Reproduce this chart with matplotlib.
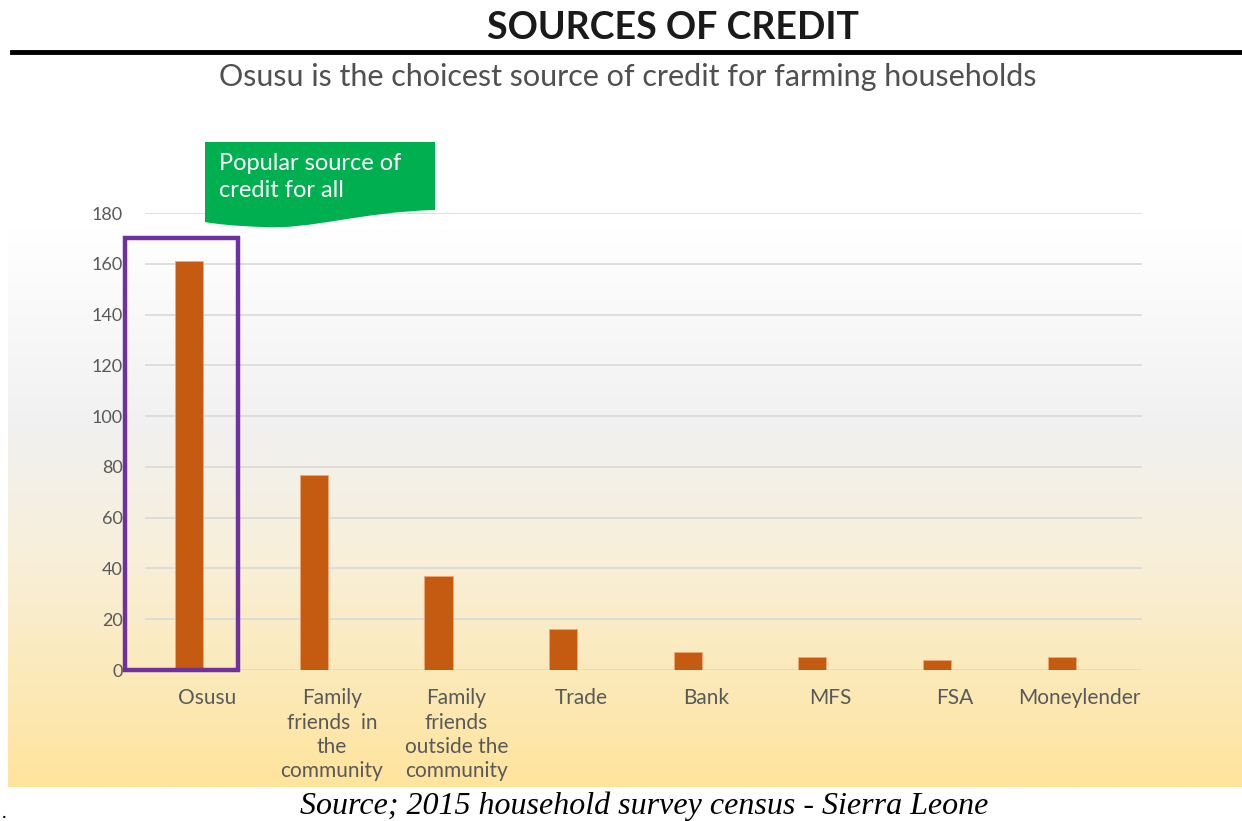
import matplotlib
matplotlib.use("Agg")
import matplotlib.pyplot as plt
import numpy as np
from matplotlib.colors import LinearSegmentedColormap
from matplotlib.patches import Rectangle, PathPatch
from matplotlib.path import Path

categories = ["Osusu", "Family\nfriends  in\nthe\ncommunity", "Family\nfriends\noutside the\ncommunity",
              "Trade", "Bank", "MFS", "FSA", "Moneylender"]
households = [161, 77, 37, 16, 7, 5, 4, 5]
y_ticks = [0, 20, 40, 60, 80, 100, 120, 140, 160, 180]

W, H = 1242, 821


def fx(px):
    return px / W


def fy(py):
    return 1 - py / H


def main():
    plt.rcParams['font.family'] = ['Lato', 'DejaVu Sans']
    fig = plt.figure(figsize=(W / 100, H / 100), dpi=100)
    fig.patch.set_facecolor("white")

    # background panel: white fading to grey then warm yellow
    bg = fig.add_axes([fx(8), fy(787), fx(1242 - 8), (787 - 230) / H])
    cmap = LinearSegmentedColormap.from_list(
        "panel", [(0, "#ffffff"), (0.35, "#f1f1f1"), (0.6, "#f8efd8"), (1, "#ffe49c")])
    bg.imshow(np.linspace(0, 1, 256)[:, None], aspect="auto", cmap=cmap, extent=[0, 1, 0, 1])
    bg.axis("off")

    ax = fig.add_axes([fx(145), fy(670), fx(1142 - 145), (670 - 213) / H])
    ax.patch.set_alpha(0)
    x = np.arange(len(categories))
    ax.bar(x - 0.145, households, width=0.225, color="#c55a11", edgecolor="#f0a878",
           linewidth=0.6, zorder=3)
    ax.set_xlim(-0.5, len(categories) - 0.5)
    ax.set_ylim(0, 180)
    ax.set_yticks(y_ticks)
    ax.set_xticks(x)
    ax.set_xticklabels(categories, fontsize=15, color="#595959", linespacing=1.28)
    ax.tick_params(axis="y", length=0, pad=16, labelsize=13, labelcolor="#595959")
    ax.tick_params(axis="x", length=0, pad=13)
    ax.grid(axis="y", color="#d9d9d9", linewidth=1.2, zorder=0)
    for s in ax.spines.values():
        s.set_visible(False)

    # highlight box around the leading source
    ax.add_patch(Rectangle((-0.66, 0), 0.91, 170, fill=False, edgecolor="#7030a0",
                           linewidth=3.2, clip_on=False, zorder=4))

    # heading, rule and subtitle
    fig.text(fx(673), fy(28), "SOURCES OF CREDIT", ha="center", va="center",
             fontsize=27, fontweight="bold", color="#1a1a1a")
    fig.add_artist(plt.Line2D([fx(12), fx(1242)], [fy(52), fy(52)], color="black",
                              linewidth=3.5))
    fig.text(fx(628), fy(77), "Osusu is the choicest source of credit for farming households",
             ha="center", va="center", fontsize=22, color="#505050")

    # green callout with a wavy lower edge
    pts = [(205, 142), (435, 142), (435, 210),
           (360, 212), (310, 230), (262, 227),
           (235, 226), (215, 224), (205, 222),
           (205, 142)]
    codes = [Path.MOVETO, Path.LINETO, Path.LINETO,
             Path.CURVE4, Path.CURVE4, Path.CURVE4,
             Path.CURVE4, Path.CURVE4, Path.CURVE4,
             Path.CLOSEPOLY]
    verts = [(fx(a), fy(b)) for a, b in pts]
    fig.add_artist(PathPatch(Path(verts, codes), facecolor="#00b050", edgecolor="none",
                             transform=fig.transFigure))
    fig.text(fx(219), fy(177), "Popular source of\ncredit for all", ha="left", va="center",
             fontsize=17, color="white", linespacing=1.38)

    fig.text(fx(644), fy(806), "Source; 2015 household survey census - Sierra Leone",
             ha="center", va="center", fontsize=23, style="italic",
             family=["Liberation Serif", "DejaVu Serif"], color="black")
    fig.text(fx(2), fy(812), ".", ha="left", va="center", fontsize=14, color="black")

    fig.savefig("out.png", dpi=100)
    return 0


if __name__ == "__main__":
    main()
